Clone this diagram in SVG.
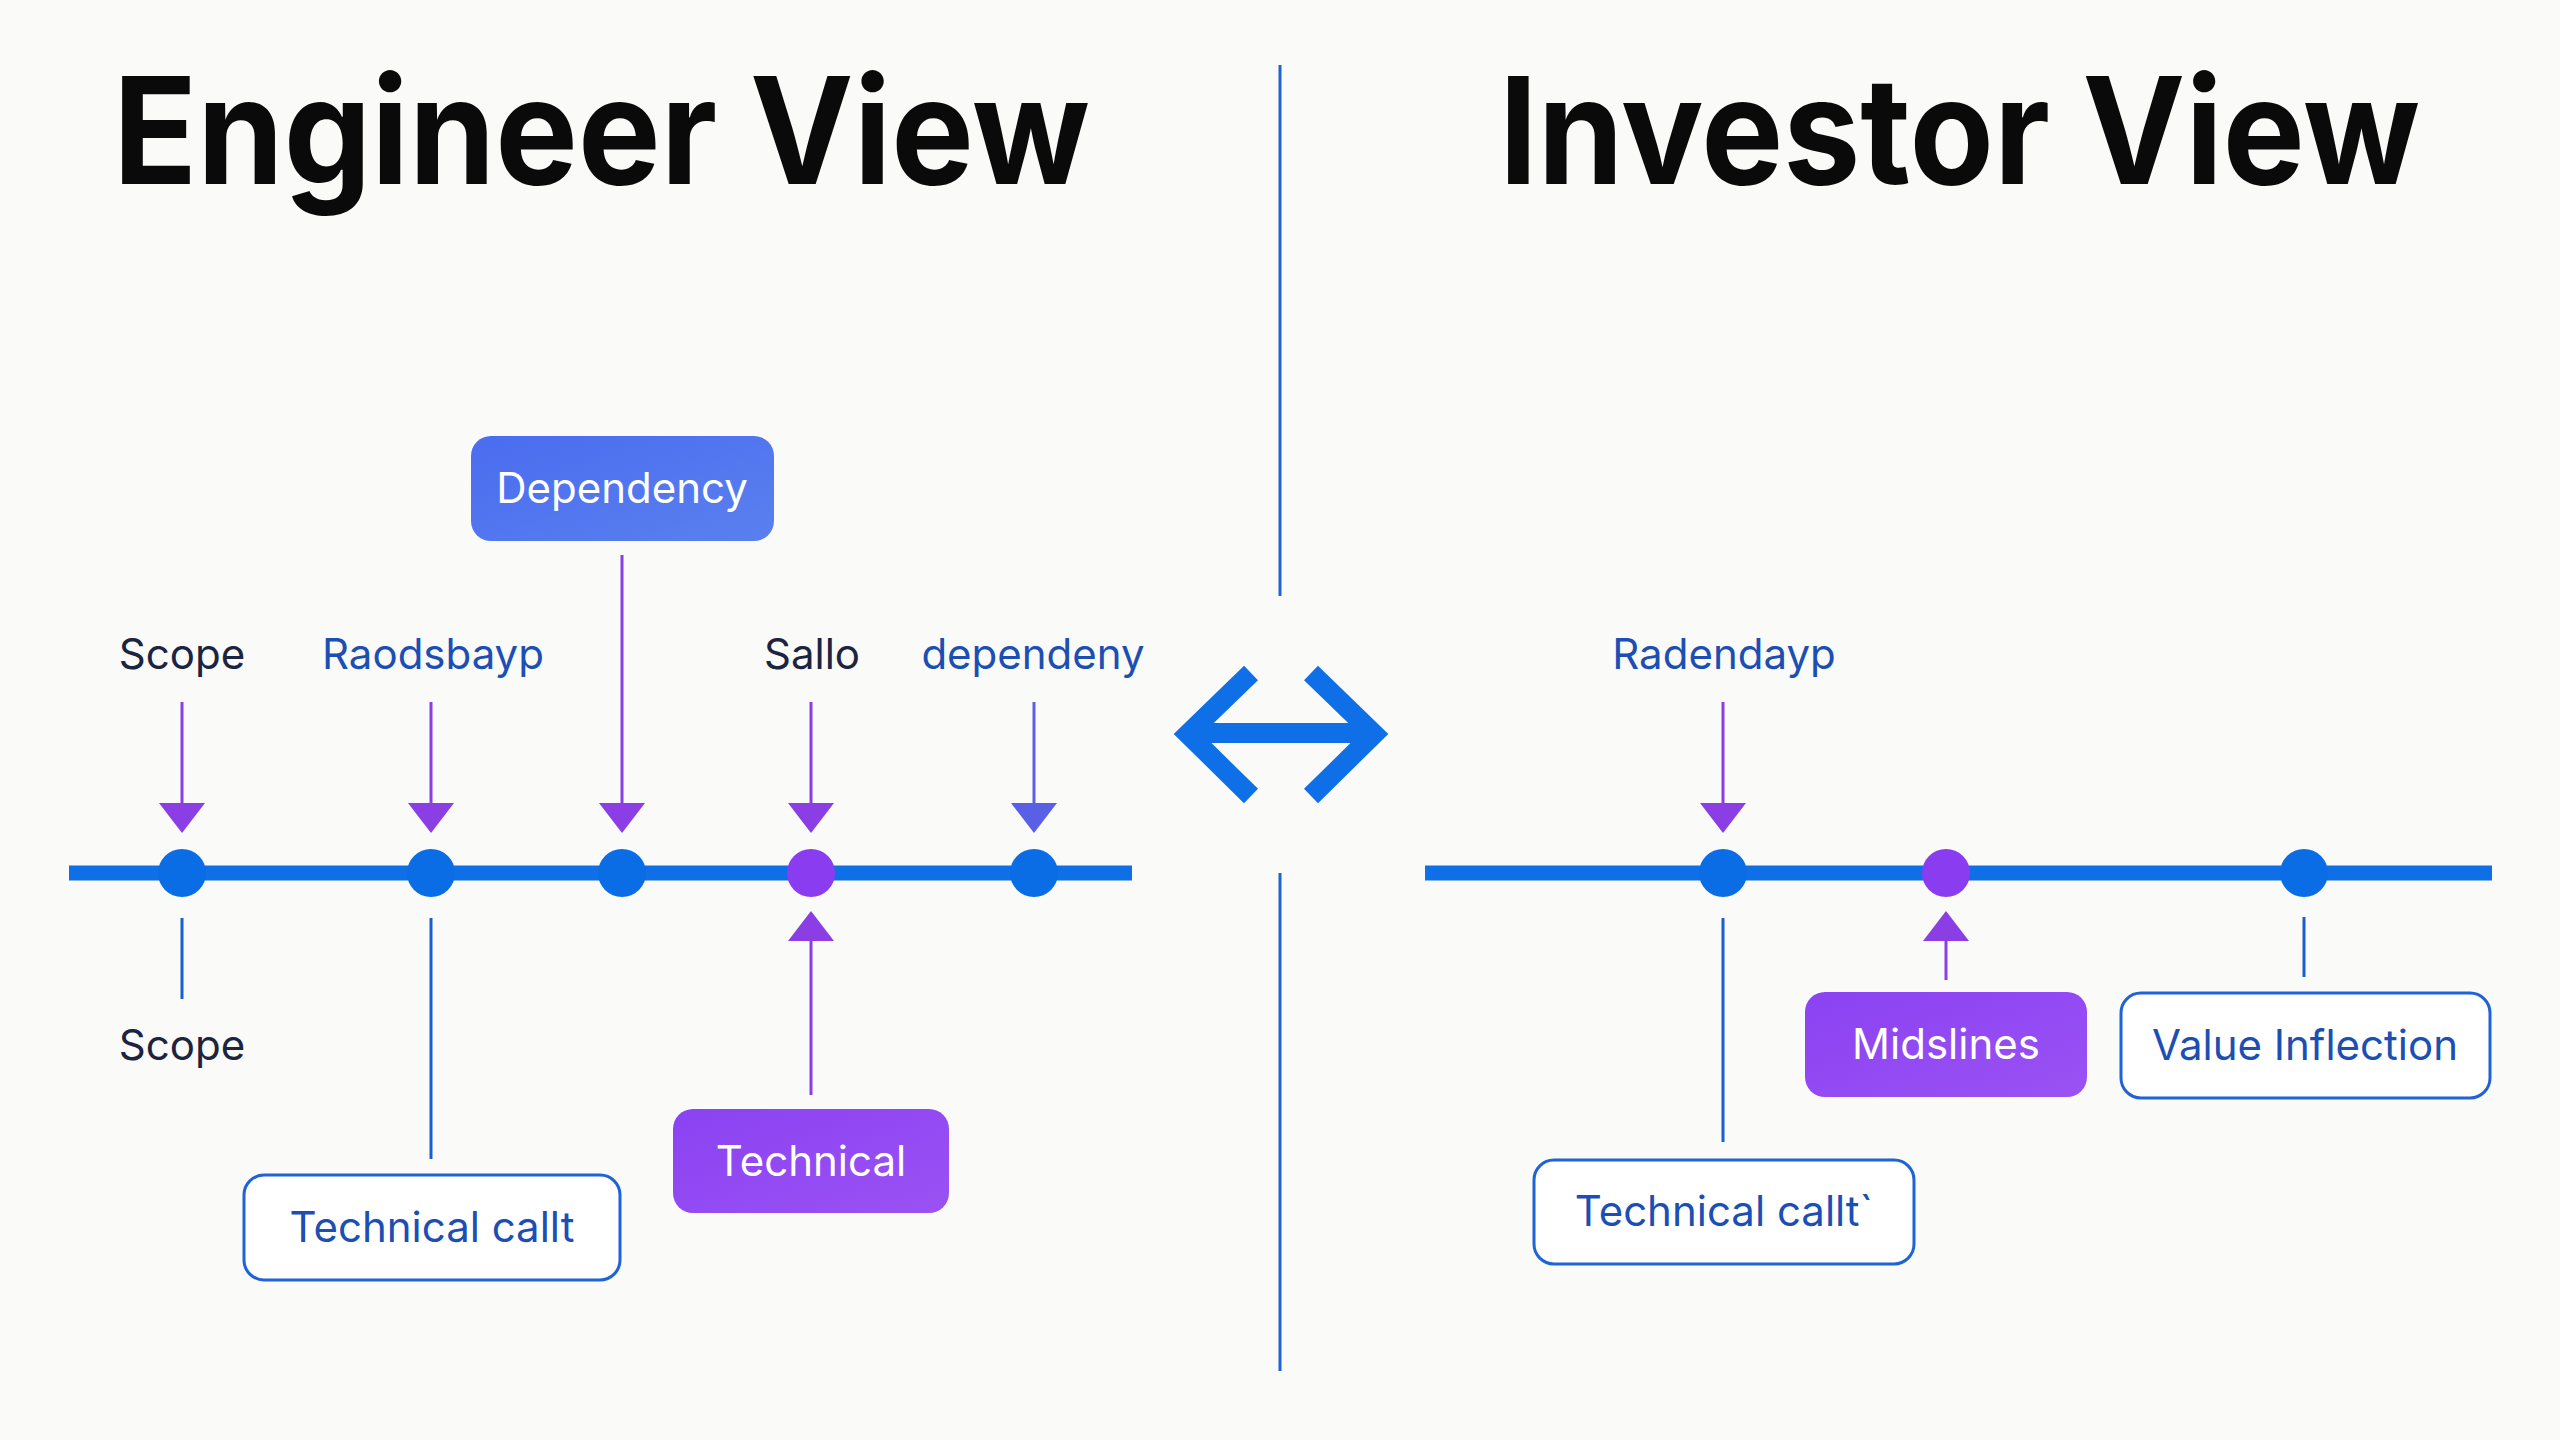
<svg xmlns="http://www.w3.org/2000/svg" width="2560" height="1440" viewBox="0 0 2560 1440">
<defs>
<style>
.title{font-family:Inter,"Liberation Sans",sans-serif;font-weight:700;font-size:148px;fill:#0a0a0a}
.lbl{font-family:Inter,"Liberation Sans",sans-serif;font-size:42px;text-anchor:middle}
.dark{fill:#1b2440}
.blue{fill:#1c4fb4}
.white{fill:#ffffff}
.tl{stroke:#0f6fe6;stroke-width:15;fill:none}
.dot{fill:#0a6de6}
.pdot{fill:#8a3df0}
.tick{stroke:#1a5fd0;stroke-width:3;fill:none}
.parr{stroke:#8a3ee4;stroke-width:3;fill:none}
.barr{stroke:#5a60e6;stroke-width:3;fill:none}
.obox{fill:#ffffff;stroke:#1f63d6;stroke-width:3}
.div{stroke:#1f63d6;stroke-width:3}
</style>
<marker id="ap" markerUnits="userSpaceOnUse" markerWidth="30" markerHeight="46" refX="0" refY="23" orient="auto" viewBox="0 0 30 46"><path d="M0,0 L30,23 L0,46 z" fill="#8a3ee4"/></marker>
<marker id="ab" markerUnits="userSpaceOnUse" markerWidth="30" markerHeight="46" refX="0" refY="23" orient="auto" viewBox="0 0 30 46"><path d="M0,0 L30,23 L0,46 z" fill="#5a60e6"/></marker>
<linearGradient id="gb" x1="0" y1="0" x2="1" y2="1"><stop offset="0" stop-color="#4a6cf0"/><stop offset="1" stop-color="#5a80ee"/></linearGradient>
<linearGradient id="gp" x1="0" y1="0" x2="1" y2="1"><stop offset="0" stop-color="#8b42f2"/><stop offset="1" stop-color="#9a52f4"/></linearGradient>
</defs>
<rect width="2560" height="1440" fill="#fafaf8"/>

<g id="titles">
<text class="title" x="113" y="184" textLength="977" lengthAdjust="spacingAndGlyphs">Engineer View</text>
<text class="title" x="1499" y="184" textLength="921" lengthAdjust="spacingAndGlyphs">Investor View</text>
</g>

<g id="divider">
<line class="div" x1="1280" y1="65" x2="1280" y2="596"/>
<line class="div" x1="1280" y1="873" x2="1280" y2="1371"/>
</g>

<g id="swap-arrow" stroke="#0f6fe6" stroke-width="20" fill="none" stroke-linecap="butt" stroke-linejoin="miter">
<line x1="1192" y1="733" x2="1370" y2="733"/>
<polyline points="1251,673 1188,734 1251,796"/>
<polyline points="1311,673 1374,734 1311,796"/>
</g>

<g id="connectors">
<line class="tl" x1="69" y1="873" x2="1132" y2="873"/>
<line class="tl" x1="1425" y1="873" x2="2492" y2="873"/>
<!-- left down arrows -->
<line class="parr" x1="182" y1="702" x2="182" y2="803" marker-end="url(#ap)"/>
<line class="parr" x1="431" y1="702" x2="431" y2="803" marker-end="url(#ap)"/>
<line class="parr" x1="622" y1="555" x2="622" y2="803" marker-end="url(#ap)"/>
<line class="parr" x1="811" y1="702" x2="811" y2="803" marker-end="url(#ap)"/>
<line class="barr" x1="1034" y1="702" x2="1034" y2="803" marker-end="url(#ab)"/>
<!-- left lower -->
<line class="tick" x1="182" y1="918" x2="182" y2="999"/>
<line class="tick" x1="431" y1="918" x2="431" y2="1159"/>
<line class="parr" x1="811" y1="1095" x2="811" y2="941" marker-end="url(#ap)"/>
<!-- right -->
<line class="parr" x1="1723" y1="702" x2="1723" y2="803" marker-end="url(#ap)"/>
<line class="tick" x1="1723" y1="918" x2="1723" y2="1142"/>
<line class="parr" x1="1946" y1="980" x2="1946" y2="941" marker-end="url(#ap)"/>
<line class="tick" x1="2304" y1="917" x2="2304" y2="977"/>
</g>

<g id="dots">
<circle class="dot" cx="182" cy="873" r="24"/>
<circle class="dot" cx="431" cy="873" r="24"/>
<circle class="dot" cx="622" cy="873" r="24"/>
<circle class="pdot" cx="811" cy="873" r="24"/>
<circle class="dot" cx="1034" cy="873" r="24"/>
<circle class="dot" cx="1723" cy="873" r="24"/>
<circle class="pdot" cx="1946" cy="873" r="24"/>
<circle class="dot" cx="2304" cy="873" r="24"/>
</g>

<g id="label-scope-top"><text class="lbl dark" x="182" y="669">Scope</text></g>
<g id="label-raodsbayp"><text class="lbl blue" x="433" y="669">Raodsbayp</text></g>
<g id="label-sallo"><text class="lbl dark" x="812" y="669">Sallo</text></g>
<g id="label-dependeny"><text class="lbl blue" x="1033" y="669">dependeny</text></g>
<g id="label-scope-bottom"><text class="lbl dark" x="182" y="1060">Scope</text></g>
<g id="label-radendayp"><text class="lbl blue" x="1724" y="669">Radendayp</text></g>

<g id="node-dependency">
<rect x="471" y="436" width="303" height="105" rx="20" fill="url(#gb)"/>
<text class="lbl white" x="622" y="503">Dependency</text>
</g>
<g id="node-technical-callt-left">
<rect class="obox" x="244" y="1175" width="376" height="105" rx="20"/>
<text class="lbl blue" x="432" y="1242">Technical callt</text>
</g>
<g id="node-technical">
<rect x="673" y="1109" width="276" height="104" rx="20" fill="url(#gp)"/>
<text class="lbl white" x="811" y="1176">Technical</text>
</g>
<g id="node-technical-callt-right">
<rect class="obox" x="1534" y="1160" width="380" height="104" rx="20"/>
<text class="lbl blue" x="1724" y="1226">Technical callt`</text>
</g>
<g id="node-midslines">
<rect x="1805" y="992" width="282" height="105" rx="20" fill="url(#gp)"/>
<text class="lbl white" x="1946" y="1059">Midslines</text>
</g>
<g id="node-value-inflection">
<rect class="obox" x="2121" y="993" width="369" height="105" rx="20"/>
<text class="lbl blue" x="2305" y="1060">Value Inflection</text>
</g>
</svg>
